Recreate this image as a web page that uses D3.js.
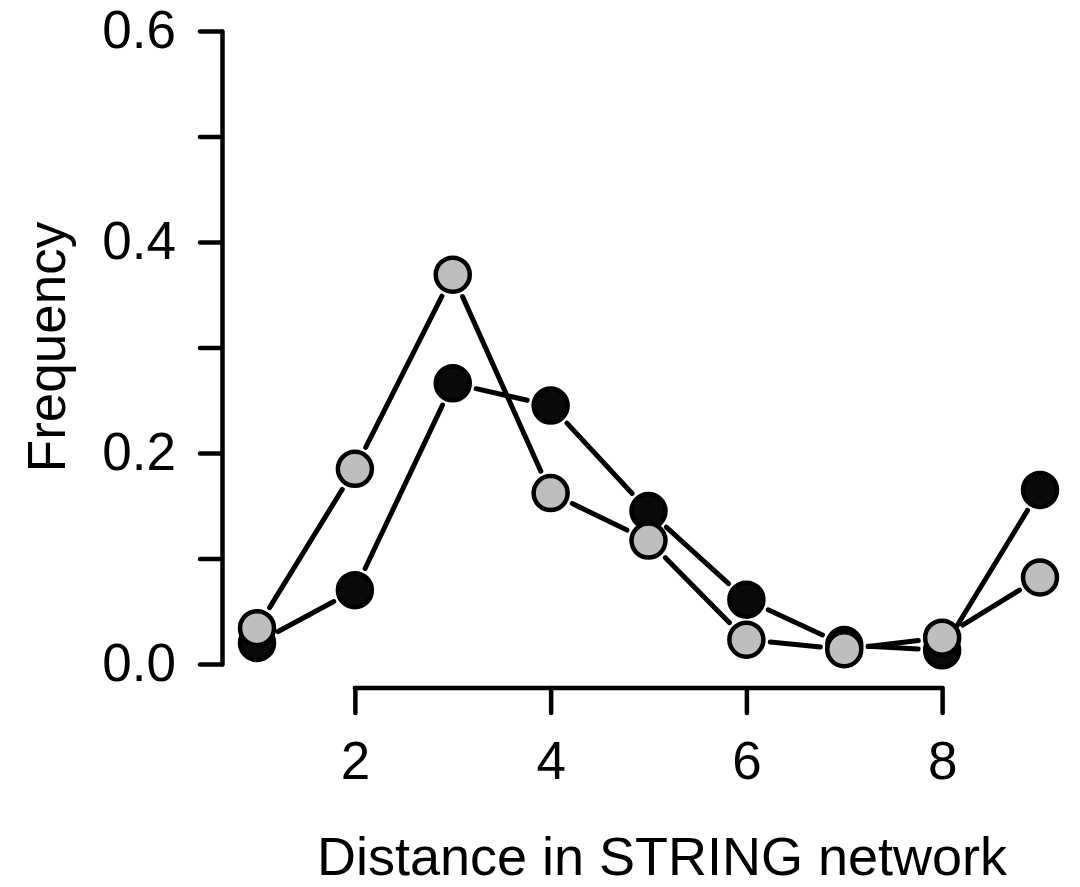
<!DOCTYPE html>
<html>
<head>
<meta charset="utf-8">
<script src="https://cdn.jsdelivr.net/npm/d3@7"></script>
<style>
  html, body { margin: 0; padding: 0; background: #fff; }
  svg { display: block; }
  text { font-family: "Liberation Sans", Arial, Helvetica, sans-serif; fill: #000; }
</style>
</head>
<body>
<svg id="chart" width="1080" height="887"></svg>
<script>
const distances = [1, 2, 3, 4, 5, 6, 7, 8, 9];
const blackSeries = [0.020, 0.070, 0.266, 0.245, 0.145, 0.061, 0.018, 0.013, 0.165];
const greySeries  = [0.034, 0.185, 0.369, 0.162, 0.117, 0.023, 0.014, 0.025, 0.082];
const xTicks = [2, 4, 6, 8];
const yTicks = [0, 0.1, 0.2, 0.3, 0.4, 0.5, 0.6];
const yTickLabels = ["0.0", "", "0.2", "", "0.4", "", "0.6"];
const xTitle = "Distance in STRING network";
const yTitle = "Frequency";

const svg = d3.select("#chart");
const x = d3.scaleLinear().domain([1, 9]).range([257, 1040]);
const y = d3.scaleLinear().domain([0, 0.6]).range([664, 31]);

const fontSize = 53;
const lw = 4.5;

// Y axis
const yAxis = d3.axisLeft(y).tickValues(yTicks)
  .tickFormat((d, i) => yTickLabels[i]).tickSize(22).tickSizeOuter(0).tickPadding(24);
const gy = svg.append("g").attr("transform", "translate(222,0)").call(yAxis);
gy.select(".domain").attr("stroke", "#000").attr("stroke-width", lw).attr("stroke-linecap", "round");
gy.selectAll(".tick line").attr("stroke", "#000").attr("stroke-width", lw).attr("stroke-linecap", "round");
gy.selectAll(".tick text").attr("font-size", fontSize)
  .attr("font-family", "'Liberation Sans', Arial, sans-serif").attr("fill", "#000");

// X axis
const xAxis = d3.axisBottom(x).tickValues(xTicks).tickFormat(d3.format("d"))
  .tickSize(25).tickSizeOuter(0).tickPadding(28);
const gx = svg.append("g").attr("transform", "translate(0,688)").call(xAxis);
gx.select(".domain").attr("stroke", "#000").attr("stroke-width", lw)
  .attr("d", `M${x(2)},0H${x(8)}`).attr("stroke-linecap", "round");
gx.selectAll(".tick line").attr("stroke", "#000").attr("stroke-width", lw).attr("stroke-linecap", "round");
gx.selectAll(".tick text").attr("font-size", fontSize)
  .attr("font-family", "'Liberation Sans', Arial, sans-serif").attr("fill", "#000");

// Titles
svg.append("text").attr("x", 662).attr("y", 875).attr("text-anchor", "middle")
  .attr("font-size", 54).text(xTitle);
svg.append("text").attr("transform", "translate(65,347) rotate(-90)")
  .attr("text-anchor", "middle").attr("font-size", fontSize).text(yTitle);

// Series (type = "b": segments with gaps around points)
const gap = 24;
function drawSeries(values, fill) {
  const pts = distances.map((d, i) => [x(d), y(values[i])]);
  const segs = [];
  for (let i = 0; i < pts.length - 1; i++) {
    const [x0, y0] = pts[i], [x1, y1] = pts[i + 1];
    const dx = x1 - x0, dy = y1 - y0, len = Math.hypot(dx, dy);
    if (len > 2 * gap) {
      const ux = dx / len, uy = dy / len;
      segs.push([x0 + ux * gap, y0 + uy * gap, x1 - ux * gap, y1 - uy * gap]);
    }
  }
  const g = svg.append("g");
  g.selectAll("line").data(segs).enter().append("line")
    .attr("x1", d => d[0]).attr("y1", d => d[1]).attr("x2", d => d[2]).attr("y2", d => d[3])
    .attr("stroke", "#000").attr("stroke-width", 5).attr("stroke-linecap", "round");
  g.selectAll("circle").data(pts).enter().append("circle")
    .attr("cx", d => d[0]).attr("cy", d => d[1]).attr("r", 17)
    .attr("fill", fill).attr("stroke", "#000").attr("stroke-width", 4.5);
}
drawSeries(blackSeries, "#0a0a0a");
drawSeries(greySeries, "#bebebe");
</script>
</body>
</html>
